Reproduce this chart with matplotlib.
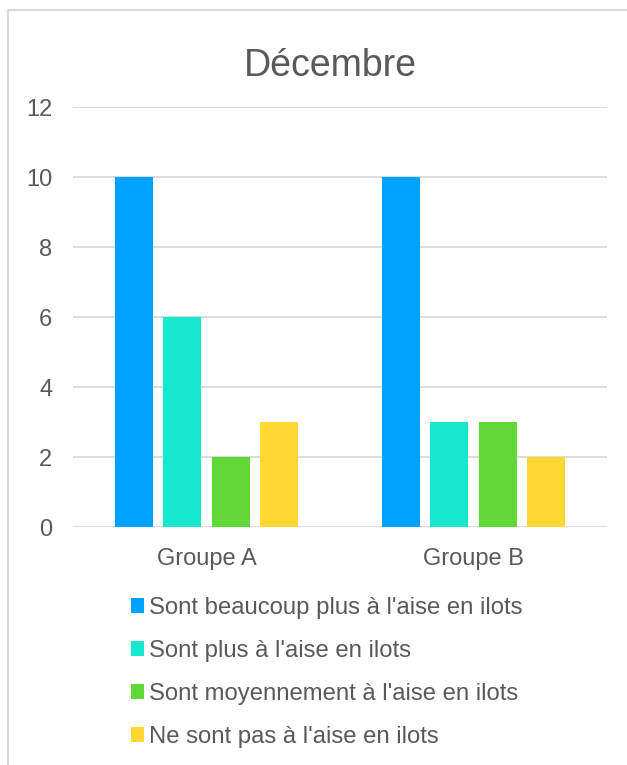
import matplotlib
matplotlib.use("Agg")
import matplotlib.pyplot as plt
import numpy as np
from matplotlib.patches import Rectangle

categories = ["Groupe A", "Groupe B"]
series_names = [
    "Sont beaucoup plus à l'aise en ilots",
    "Sont plus à l'aise en ilots",
    "Sont moyennement à l'aise en ilots",
    "Ne sont pas à l'aise en ilots",
]
beaucoup = [10, 10]
plus = [6, 3]
moyennement = [2, 3]
pas = [3, 2]
values = [beaucoup, plus, moyennement, pas]
colors = ["#00A2FF", "#16E7CF", "#61D836", "#FFD932"]
yticks = [0, 2, 4, 6, 8, 10, 12]

plt.rcParams['font.family'] = ['Liberation Sans', 'DejaVu Sans']
txt = "#595959"

W, H = 627, 765
fig = plt.figure(figsize=(W / 100, H / 100), dpi=100)

# outer chart frame
fig.patches.append(Rectangle((8 / W, -0.1), 1.2, (H - 10) / H + 0.1, transform=fig.transFigure,
                             facecolor="none", edgecolor="#d9d9d9", linewidth=1.5, zorder=0))

ax = fig.add_axes([73 / W, (H - 527) / H, (607 - 73) / W, (527 - 107) / H])
x = np.arange(len(categories))
bw = 0.142
step = 0.181
for i, (vals, c, name) in enumerate(zip(values, colors, series_names)):
    ax.bar(x + (i - 1.5) * step, vals, width=bw, color=c, label=name, zorder=3)

ax.set_xlim(-0.5, 1.5)
ax.set_ylim(0, 12)
ax.set_yticks(yticks)
ax.set_yticklabels([str(v) for v in yticks])
ax.set_xticks(x)
ax.set_xticklabels(categories)
ax.yaxis.grid(True, color="#d9d9d9", linewidth=1.3, zorder=0)
ax.set_axisbelow(True)
for s in ax.spines.values():
    s.set_visible(False)
ax.tick_params(axis="both", length=0, labelcolor=txt)
ax.tick_params(axis="y", pad=15, labelsize=17)
ax.tick_params(axis="x", pad=15, labelsize=17)

fig.text(330 / W, (H - 66) / H, "Décembre", ha="center", va="center", fontsize=27, color=txt)

leg = fig.legend(loc="upper left", bbox_to_anchor=(131 / W, (H - 597) / H), frameon=False,
                 fontsize=17.2, labelcolor=txt, handlelength=0.55, handleheight=0.55,
                 handletextpad=0.21, labelspacing=0.88, borderaxespad=0, borderpad=0)

fig.savefig("out.png", dpi=100)
